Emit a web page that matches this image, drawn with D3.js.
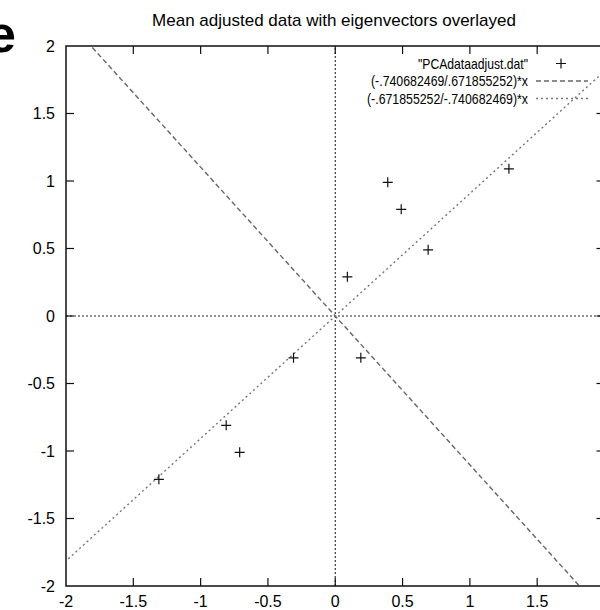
<!DOCTYPE html>
<html>
<head>
<meta charset="utf-8">
<script src="https://cdn.jsdelivr.net/npm/d3@7"></script>
<style>
  body { margin: 0; background: white; }
  svg { display: block; font-family: "Liberation Sans", Arial, sans-serif; }
</style>
</head>
<body>
<div id="chart"></div>
<script>
// data points (mean adjusted)
const xVals = [0.69, -1.31, 0.39, 0.09, 1.29, 0.49, 0.19, -0.81, -0.31, -0.71];
const yVals = [0.49, -1.21, 0.99, 0.29, 1.09, 0.79, -0.31, -0.81, -0.31, -1.01];
// eigenvector slopes
const slopes = [-0.740682469 / 0.671855252, -0.671855252 / -0.740682469];
const legendLabels = ['"PCAdataadjust.dat"', "(-.740682469/.671855252)*x", "(-.671855252/-.740682469)*x"];
const xTicks = [-2, -1.5, -1, -0.5, 0, 0.5, 1, 1.5, 2];
const yTicks = [-2, -1.5, -1, -0.5, 0, 0.5, 1, 1.5, 2];

const width = 600, height = 610;
const padL = 66, padR = 604.5, padT = 46, padB = 586;

const svg = d3.select("#chart").append("svg")
  .attr("width", width).attr("height", height);

const x = d3.scaleLinear().domain([-2, 2]).range([padL, padR]);
const y = d3.scaleLinear().domain([-2, 2]).range([padB, padT]);

// bit of slide text cut off at left
svg.append("text")
  .attr("x", 16).attr("y", 52)
  .attr("text-anchor", "end")
  .style("font-size", "52px")
  .style("font-weight", "bold")
  .text("e");

// title
svg.append("text")
  .attr("x", 334).attr("y", 26)
  .attr("text-anchor", "middle")
  .style("font-size", "17px")
  .text("Mean adjusted data with eigenvectors overlayed");

const plot = svg.append("g");

// clip for lines
svg.append("clipPath").attr("id", "clip")
  .append("rect").attr("x", padL).attr("y", padT)
  .attr("width", padR - padL).attr("height", padB - padT);

// zero axes
plot.append("line")
  .attr("x1", x(-2)).attr("x2", x(2)).attr("y1", y(0)).attr("y2", y(0))
  .attr("stroke", "#222").attr("stroke-width", 1.1).attr("stroke-dasharray", "2,2");
plot.append("line")
  .attr("x1", x(0)).attr("x2", x(0)).attr("y1", y(-2)).attr("y2", y(2))
  .attr("stroke", "#222").attr("stroke-width", 1.1).attr("stroke-dasharray", "2,2");

// eigenvector lines
const dashes = ["5,3", "2,3"];
const lineCol = ["#666", "#777"];
slopes.forEach((m, i) => {
  plot.append("line")
    .attr("clip-path", "url(#clip)")
    .attr("x1", x(-3)).attr("y1", y(-3 * m))
    .attr("x2", x(3)).attr("y2", y(3 * m))
    .attr("stroke", lineCol[i]).attr("stroke-width", 1.4)
    .attr("stroke-dasharray", dashes[i]);
});

// points as plus signs
const pts = xVals.map((v, i) => ({ x: v, y: yVals[i] }));
const plus = (cx, cy) => `M${cx - 5},${cy}H${cx + 5}M${cx},${cy - 5}V${cy + 5}`;
plot.selectAll(".pt")
  .data(pts)
  .join("path")
  .attr("class", "pt")
  .attr("d", d => plus(x(d.x), y(d.y)))
  .attr("stroke", "#111").attr("stroke-width", 1.2).attr("fill", "none");

// frame
plot.append("rect")
  .attr("x", padL).attr("y", padT)
  .attr("width", padR - padL).attr("height", padB - padT)
  .attr("fill", "none").attr("stroke", "#111").attr("stroke-width", 1.5);

// ticks (inward on all four sides)
const tl = 8;
xTicks.slice(1, -1).forEach(t => {
  plot.append("line").attr("x1", x(t)).attr("x2", x(t)).attr("y1", padB).attr("y2", padB - tl)
    .attr("stroke", "#111").attr("stroke-width", 1.2);
  plot.append("line").attr("x1", x(t)).attr("x2", x(t)).attr("y1", padT).attr("y2", padT + tl)
    .attr("stroke", "#111").attr("stroke-width", 1.2);
});
yTicks.slice(1, -1).forEach(t => {
  plot.append("line").attr("x1", padL).attr("x2", padL + tl).attr("y1", y(t)).attr("y2", y(t))
    .attr("stroke", "#111").attr("stroke-width", 1.2);
  plot.append("line").attr("x1", padR).attr("x2", padR - tl).attr("y1", y(t)).attr("y2", y(t))
    .attr("stroke", "#111").attr("stroke-width", 1.2);
});

// tick labels (the "2" on x falls outside the picture, as in the original)
svg.selectAll(".xl").data(xTicks.filter(d => x(d) < width)).join("text")
  .attr("class", "xl")
  .attr("x", d => x(d)).attr("y", 607)
  .attr("text-anchor", "middle")
  .style("font-size", "16px")
  .text(d => d);
svg.selectAll(".yl").data(yTicks).join("text")
  .attr("class", "yl")
  .attr("x", 55).attr("y", d => y(d)).attr("dy", "0.35em")
  .attr("text-anchor", "end")
  .style("font-size", "16px")
  .text(d => d);

// legend (text in the reference is narrow, so squeeze it to width)
const legY = [63.5, 81, 98.5];
const legW = [110, 157, 161];
legendLabels.forEach((lab, i) => {
  svg.append("text")
    .attr("x", 528 - legW[i]).attr("y", legY[i]).attr("dy", "0.35em")
    .attr("textLength", legW[i])
    .attr("lengthAdjust", "spacingAndGlyphs")
    .style("font-size", "14.5px")
    .text(lab);
});
svg.append("path").attr("d", plus(561, legY[0]))
  .attr("stroke", "#111").attr("stroke-width", 1.2);
[1, 2].forEach(i => {
  svg.append("line")
    .attr("x1", 536).attr("x2", 588).attr("y1", legY[i]).attr("y2", legY[i])
    .attr("stroke", lineCol[i - 1]).attr("stroke-width", 1.4)
    .attr("stroke-dasharray", dashes[i - 1]);
});
</script>
</body>
</html>
